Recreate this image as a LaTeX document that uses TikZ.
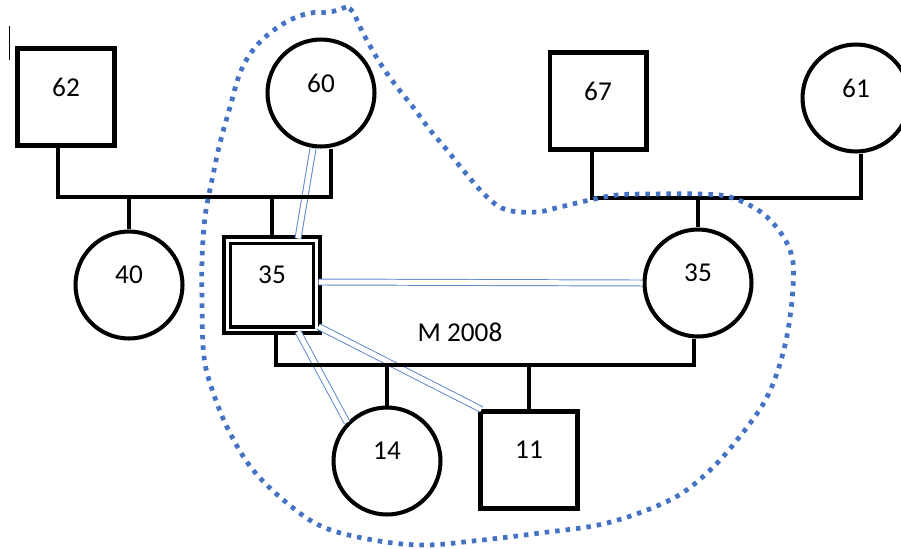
\documentclass[tikz,border=0pt]{standalone}
\usepackage{fontspec}
\setmainfont{Carlito}
\usetikzlibrary{calc}
\definecolor{groupblue}{RGB}{68,114,196}
\begin{document}
\begin{tikzpicture}[x=0.02cm, y=-0.02cm]
	\tikzstyle{Male} = [rectangle, draw, line width=2.3pt, minimum size=1.94cm, inner sep=0pt, text depth=0.4cm, font=\fontsize{15.5}{18}\selectfont]
	\tikzstyle{Female} = [circle, draw, line width=2.3pt, minimum size=2.14cm, inner sep=0pt, text depth=0.4cm, font=\fontsize{15.5}{18}\selectfont]
	\tikzstyle{Index} = [Male, double=white, double distance=0.06cm, line width=1.8pt, minimum size=1.8cm]
	\tikzstyle{Line} = [line width=2pt]
	\tikzstyle{Bond} = [draw=groupblue!85, line width=0.55pt, double=white, double distance=0.1cm]
	\tikzstyle{Group} = [groupblue, line width=0.095cm, dash pattern=on 0.09cm off 0.12cm]
	\useasboundingbox (0,0) rectangle (901,548);
	\node (f62) at (66,97) [Male] {62};
	\node (m60) at (321,93) [Female] {60};
	\node (d40) at (129,285) [Female] {40};
	\node (p35) at (272,285) [Index] {35};
	\node (f67) at (598,101) [Male] {67};
	\node (m61) at (856,98) [Female] {61};
	\node (w35) at (698,283) [Female] {35};
	\node (c14) at (387,461) [Female] {14};
	\node (s11) at (529,460) [Male] {11};
	\node (yr) at (460,332) [font=\fontsize{15.5}{18}\selectfont] {M 2008};
	\coordinate (sib60) at (200,197);
	\coordinate (sib67) at (700,198);
	\coordinate (sib35) at (400,365);
	% close relationships
	\draw[Bond] ($(m60.south)+(-8,0)$) to ($(p35.north)+(26,0)$);
	\draw[Bond] ($(p35.east)+(0,-3)$) to (w35.west);
	\draw[Bond] ($(p35.south)+(26,0)$) to (c14.136);
	\draw[Bond] ($(p35.south east)+(0,-5)$) to ($(s11.north west)+(3,0)$);
	% families
	\draw[Line] ($(f62.south)+(-8,0)$) |- (sib60) -| ($(m60.south)+(10,0)$);
	\draw[Line] (d40.north) to (d40.north |- sib60);
	\draw[Line] (p35.north) to (p35.north |- sib60);
	\draw[Line] ($(f67.south)+(-6,0)$) |- (sib67) -| ($(m61.south)+(5,0)$);
	\draw[Line] (w35.north) to (w35.north |- sib67);
	\draw[Line] ($(p35.south)+(4,0)$) |- (sib35) -| ($(w35.south)+(-4,0)$);
	\draw[Line] (c14.north) to (c14.north |- sib35);
	\draw[Line] (s11.north) to (s11.north |- sib35);
	% household
	\draw[Group] plot[smooth, tension=0.6] coordinates {(346,7) (330,12) (310,13) (290,20) (270,33) (253,50) (240,73) (230,107) (220,143) (212,180) (205,217) (202,260) (202,300) (204,357) (214,395) (230,433) (253,470) (287,503) (323,527) (373,540) (423,545) (473,541) (540,533) (607,523) (670,500) (707,473) (737,440) (767,397) (785,345) (793,287) (790,250) (767,217) (733,198) (700,194) (650,194) (617,195) (590,200) (560,207) (537,212) (507,210) (487,197) (463,170) (447,150) (430,130) (413,107) (397,87) (380,63) (363,33) (353,12) (346,7)};
	\draw[very thin] (9,26) -- (9,60);
\end{tikzpicture}
\end{document}
